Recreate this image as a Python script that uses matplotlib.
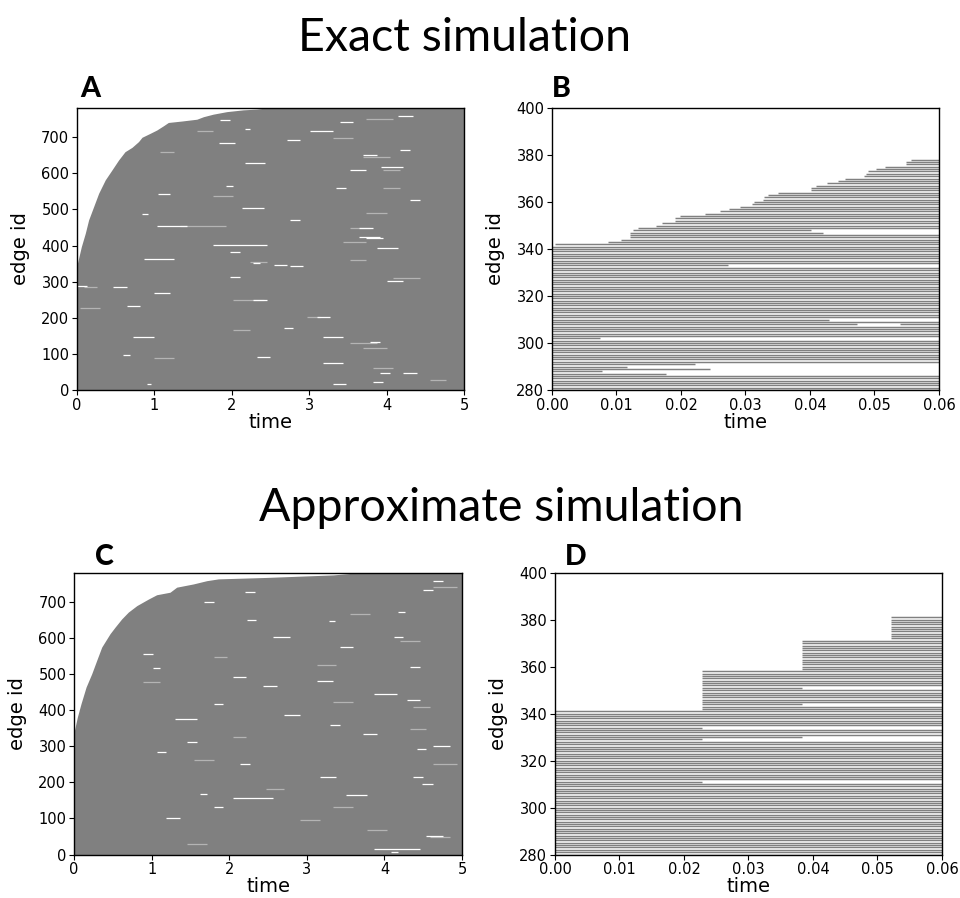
import numpy as np
import matplotlib
matplotlib.use("Agg")
import matplotlib.pyplot as plt

# ---------------- data ----------------
# Panel A: boundary of the occupied region (edge id vs first-activation time)
A_bound_id = [0, 346, 397, 434, 471, 508, 545, 582, 609, 637, 660, 672, 688, 700,
              711, 720, 732, 741, 745, 750, 757, 764, 771, 776, 778, 780]
A_bound_t = [0, 0, 0.056, 0.107, 0.15, 0.215, 0.28, 0.365, 0.45, 0.537, 0.62, 0.71,
             0.795, 0.84, 0.946, 1.03, 1.118, 1.18, 1.354, 1.548, 1.634, 1.76,
             1.935, 2.15, 2.32, 2.4]
# Panel A: white gaps (edge id, t start, t end)
A_gap_id = [685, 692, 716, 741, 759, 723, 651, 619, 630, 609, 559, 542, 503, 488,
            454, 471, 425, 420, 402, 392, 362, 353, 343, 288, 284, 302, 314, 268,
            249, 233, 203, 171, 148, 148, 134, 97, 92, 74, 46, 46, 23, 17, 17, 383,
            665, 565, 526, 448, 346, 748]
A_gap_t0 = [1.83, 2.71, 3.01, 3.40, 4.15, 2.17, 3.70, 3.93, 2.17, 3.53, 3.35, 1.05,
            2.13, 0.84, 1.03, 2.75, 3.65, 3.74, 1.76, 3.87, 0.86, 2.28, 2.75, 0.0,
            0.47, 4.0, 1.98, 0.99, 2.28, 0.64, 3.10, 2.67, 0.73, 3.18, 3.78, 0.60,
            2.32, 3.18, 3.91, 4.21, 3.83, 0.90, 3.31, 1.98, 4.17, 1.93, 4.30, 3.65,
            2.54, 1.85]
A_gap_t1 = [2.04, 2.88, 3.31, 3.57, 4.34, 2.24, 3.87, 4.21, 2.43, 3.74, 3.48, 1.20,
            2.41, 0.92, 1.42, 2.88, 3.91, 3.96, 2.45, 4.15, 1.25, 2.36, 2.92, 0.13,
            0.64, 4.21, 2.11, 1.20, 2.45, 0.82, 3.27, 2.79, 0.99, 3.44, 3.91, 0.69,
            2.49, 3.44, 4.04, 4.39, 3.96, 0.95, 3.48, 2.11, 4.30, 2.02, 4.43, 3.83,
            2.71, 1.98]
# Panel A: lighter streaks
A_light_id = [454, 448, 646, 609, 249, 203, 129, 115, 354, 286, 660, 718, 559, 411,
              28, 60, 309, 536, 489, 360, 166, 226, 88, 750, 697]
A_light_t0 = [1.33, 3.53, 3.70, 3.96, 2.02, 2.97, 3.53, 3.70, 2.24, 0.09, 1.07, 1.55,
              3.96, 3.44, 4.56, 3.83, 4.08, 1.76, 3.74, 3.53, 2.02, 0.04, 0.99, 3.74,
              3.31]
A_light_t1 = [1.93, 3.78, 4.04, 4.17, 2.41, 3.14, 3.87, 4.00, 2.45, 0.26, 1.25, 1.76,
              4.17, 3.74, 4.77, 4.08, 4.43, 2.02, 4.00, 3.74, 2.24, 0.30, 1.25, 4.08,
              3.57]

# Panel C
C_bound_id = [0, 339, 381, 418, 464, 501, 538, 575, 612, 630, 653, 672, 690, 708,
              720, 727, 741, 750, 759, 764, 768, 775, 779]
C_bound_t = [0, 0, 0.043, 0.09, 0.155, 0.228, 0.292, 0.357, 0.464, 0.528, 0.614,
             0.70, 0.81, 0.958, 1.065, 1.237, 1.323, 1.538, 1.71, 1.86, 2.48, 3.34,
             3.56]
C_gap_id = [699, 651, 646, 673, 729, 604, 556, 517, 492, 466, 482, 446, 418, 376,
            335, 312, 301, 284, 215, 196, 169, 164, 157, 132, 100, 51, 14, 6, 358,
            386, 427, 252, 215, 519, 575, 602, 732, 759, 293]
C_gap_t0 = [1.68, 2.23, 3.28, 4.18, 2.20, 2.57, 0.89, 1.02, 2.05, 2.44, 3.13, 3.86,
            1.80, 1.30, 3.73, 1.45, 4.63, 1.07, 3.17, 4.48, 1.62, 3.51, 2.05, 1.80,
            1.19, 4.54, 3.86, 4.09, 3.30, 2.70, 4.29, 2.14, 4.37, 4.33, 3.43, 4.12,
            4.50, 4.63, 4.42]
C_gap_t1 = [1.80, 2.35, 3.36, 4.27, 2.33, 2.78, 1.02, 1.11, 2.22, 2.61, 3.34, 4.16,
            1.92, 1.58, 3.90, 1.58, 4.85, 1.19, 3.38, 4.63, 1.71, 3.77, 2.57, 1.92,
            1.37, 4.76, 4.46, 4.18, 3.43, 2.91, 4.46, 2.27, 4.50, 4.46, 3.60, 4.24,
            4.63, 4.76, 4.54]
C_light_id = [326, 422, 409, 261, 95, 49, 67, 593, 667, 524, 478, 183, 252, 547,
              741, 349, 132, 30]
C_light_t0 = [2.05, 3.34, 4.37, 1.54, 2.91, 4.59, 3.77, 4.20, 3.56, 3.13, 0.89, 2.48,
              4.63, 1.80, 4.63, 4.33, 3.34, 1.45]
C_light_t1 = [2.22, 3.60, 4.59, 1.80, 3.17, 4.85, 4.03, 4.46, 3.81, 3.38, 1.11, 2.70,
              4.93, 1.97, 4.93, 4.54, 3.60, 1.71]

# Panel B: edges 280..378 ; edges below 342 start at t=0
B_first_id, B_last_id = 280, 378
B_late_ids = list(range(342, 379))
B_late_start = [0.0005, 0.0087, 0.0107, 0.0121, 0.0121, 0.0121, 0.0125, 0.0134,
                0.0162, 0.0170, 0.0190, 0.0191, 0.0198, 0.0237, 0.0261, 0.0274,
                0.0292, 0.0310, 0.0313, 0.0327, 0.0328, 0.0335, 0.0350, 0.0402,
                0.0402, 0.0410, 0.0427, 0.0444, 0.0454, 0.0484, 0.0487, 0.0490,
                0.0502, 0.0517, 0.0549, 0.0549, 0.0556]
B_gap_id = [287, 288, 289, 290, 291, 302, 308, 310, 333, 347, 348]
B_gap_t0 = [0.0177, 0.0077, 0.0245, 0.0116, 0.0221, 0.0075, 0.0473, 0.0430,
            0.0273, 0.0420, 0.0401]
B_gap_t1 = [0.06, 0.06, 0.06, 0.06, 0.06, 0.06, 0.0540, 0.06, 0.06, 0.06, 0.06]

# Panel D: edges 280..381, activated in discrete steps
D_first_id, D_last_id = 280, 381
D_block_first = [342, 359, 372]
D_block_last = [358, 371, 381]
D_block_start = [0.0228, 0.0383, 0.0521]
D_gap_id = [311, 329, 330, 334, 344, 351]
D_gap_t0 = [0.0228, 0.0228, 0.0383, 0.0228, 0.0383, 0.0383]
D_gap_t1 = [0.06, 0.06, 0.06, 0.06, 0.06, 0.06]

GRAY = "#808080"

# ---------------- figure ----------------
fig = plt.figure(figsize=(9.6, 8.98), dpi=100)
plt.rcParams["font.family"] = ["DejaVu Sans"]

TICK_FS = 10.5
LAB_FS = 14

def style(ax):
    ax.tick_params(labelsize=TICK_FS, length=3.5, width=0.8, pad=2)
    for s in ax.spines.values():
        s.set_linewidth(1.0)
        s.set_color("black")
    ax.set_xlabel("time", fontsize=LAB_FS, labelpad=0)
    ax.set_ylabel("edge id", fontsize=LAB_FS, labelpad=8)


def dense_panel(ax, bid, bt, gid, g0, g1, lid, l0, l1):
    ax.fill_betweenx(bid, bt, 5, color=GRAY, lw=0)
    ax.hlines(lid, l0, l1, colors="#b4b4b4", linewidth=0.9)
    ax.hlines(gid, g0, g1, colors="white", linewidth=0.9)
    ax.set_xlim(0, 5)
    ax.set_ylim(0, 781)
    ax.set_xticks(range(0, 6))
    ax.set_yticks(range(0, 800, 100))
    style(ax)


def segments(ids, starts, gid, g0, g1, tmax):
    ys, xs0, xs1 = [], [], []
    for i, s in zip(ids, starts):
        cuts = sorted([(a, b) for g, a, b in zip(gid, g0, g1) if g == i])
        cur = s
        for a, b in cuts:
            if a > cur:
                ys.append(i); xs0.append(cur); xs1.append(a)
            cur = max(cur, b)
        if cur < tmax:
            ys.append(i); xs0.append(cur); xs1.append(tmax)
    return ys, xs0, xs1


def zoom_panel(ax, ys, x0, x1):
    ax.hlines(ys, x0, x1, colors=GRAY, linewidth=1.05)
    ax.set_xlim(0, 0.06)
    ax.set_ylim(280, 400)
    ax.set_xticks(np.arange(0, 0.061, 0.01))
    ax.set_xticklabels([f"{v:.2f}" for v in np.arange(0, 0.061, 0.01)])
    ax.set_yticks(range(280, 401, 20))
    style(ax)


axA = fig.add_axes([0.0802, 0.5657, 0.4031, 0.3140])
axB = fig.add_axes([0.5750, 0.5657, 0.4031, 0.3140])
axC = fig.add_axes([0.0771, 0.0484, 0.4042, 0.3138])
axD = fig.add_axes([0.5781, 0.0484, 0.4031, 0.3138])

dense_panel(axA, A_bound_id, A_bound_t, A_gap_id, A_gap_t0, A_gap_t1,
            A_light_id, A_light_t0, A_light_t1)
dense_panel(axC, C_bound_id, C_bound_t, C_gap_id, C_gap_t0, C_gap_t1,
            C_light_id, C_light_t0, C_light_t1)

# panel B
b_ids = list(range(B_first_id, B_last_id + 1))
late = dict(zip(B_late_ids, B_late_start))
b_starts = [late.get(i, 0.0) for i in b_ids]
zoom_panel(axB, *segments(b_ids, b_starts, B_gap_id, B_gap_t0, B_gap_t1, 0.06))

# panel D
d_ids = list(range(D_first_id, D_last_id + 1))
d_starts = []
for i in d_ids:
    s = 0.0
    for f, l, t in zip(D_block_first, D_block_last, D_block_start):
        if f <= i <= l:
            s = t
    d_starts.append(s)
zoom_panel(axD, *segments(d_ids, d_starts, D_gap_id, D_gap_t0, D_gap_t1, 0.06))

# titles and panel letters
TITLE_FONT = ["Lato", "DejaVu Sans"]
fig.text(465 / 960, 1 - 51 / 898, "Exact simulation", ha="center", va="baseline",
         fontsize=33.5, family=TITLE_FONT)
fig.text(501 / 960, 1 - 521 / 898, "Approximate simulation", ha="center",
         va="baseline", fontsize=33.5, family=TITLE_FONT)
for lab, x, y in [("A", 80, 97), ("B", 552, 97), ("C", 95, 565), ("D", 565, 565)]:
    fig.text(x / 960, 1 - y / 898, lab, ha="left", va="baseline", fontsize=20.5,
             fontweight="black", family=TITLE_FONT)

fig.savefig("out.png", dpi=100)
